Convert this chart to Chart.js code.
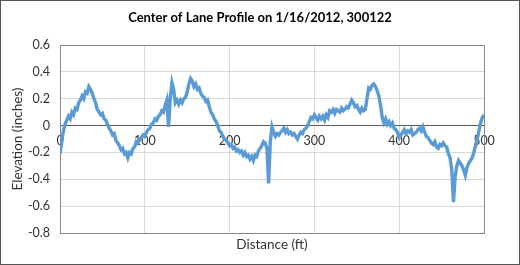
<!DOCTYPE html>
<html>
<head>
<meta charset="utf-8">
<script src="https://cdn.jsdelivr.net/npm/chart.js@4/dist/chart.umd.min.js"></script>
<style>
  html, body { margin: 0; padding: 0; background: #fff; }
  #wrap { width: 520px; height: 265px; box-sizing: border-box; border: 1px solid #555; position: relative; }
  #wrap canvas { display: block; }
</style>
</head>
<body>
<div id="wrap"><canvas id="profile"></canvas></div>
<script>
// distance along the lane (ft), one reading every 2 ft
const distances = [
    0,   2,   4,   6,   8,  10,  12,  14,  16,  18,
   20,  22,  24,  26,  28,  30,  32,  34,  36,  38,
   40,  42,  44,  46,  48,  50,  52,  54,  56,  58,
   60,  62,  64,  66,  68,  70,  72,  74,  76,  78,
   80,  82,  84,  86,  88,  90,  92,  94,  96,  98,
  100, 102, 104, 106, 108, 110, 112, 114, 116, 118,
  120, 122, 124, 126, 128, 130, 132, 134, 136, 138,
  140, 142, 144, 146, 148, 150, 152, 154, 156, 158,
  160, 162, 164, 166, 168, 170, 172, 174, 176, 178,
  180, 182, 184, 186, 188, 190, 192, 194, 196, 198,
  200, 202, 204, 206, 208, 210, 212, 214, 216, 218,
  220, 222, 224, 226, 228, 230, 232, 234, 236, 238,
  240, 242, 244, 246, 248, 250, 252, 254, 256, 258,
  260, 262, 264, 266, 268, 270, 272, 274, 276, 278,
  280, 282, 284, 286, 288, 290, 292, 294, 296, 298,
  300, 302, 304, 306, 308, 310, 312, 314, 316, 318,
  320, 322, 324, 326, 328, 330, 332, 334, 336, 338,
  340, 342, 344, 346, 348, 350, 352, 354, 356, 358,
  360, 362, 364, 366, 368, 370, 372, 374, 376, 378,
  380, 382, 384, 386, 388, 390, 392, 394, 396, 398,
  400, 402, 404, 406, 408, 410, 412, 414, 416, 418,
  420, 422, 424, 426, 428, 430, 432, 434, 436, 438,
  440, 442, 444, 446, 448, 450, 452, 454, 456, 458,
  460, 462, 464, 466, 468, 470, 472, 474, 476, 478,
  480, 482, 484, 486, 488, 490, 492, 494, 496, 498,
  500
];

// elevation (inches)
const elevation = [
  -0.21, -0.12, -0.04,  0.01,  0.04,  0.07,  0.05,  0.10,  0.08,  0.13,
   0.12,  0.17,  0.19,  0.22,  0.20,  0.25,  0.24,  0.29,  0.27,  0.24,
   0.20,  0.17,  0.12,  0.10,  0.08,  0.09,  0.05,  0.04,  0.01, -0.02,
  -0.04, -0.07, -0.06, -0.11, -0.13, -0.15, -0.18, -0.17, -0.21, -0.20,
  -0.24, -0.20, -0.21, -0.17, -0.16, -0.12, -0.13, -0.10, -0.09, -0.07,
  -0.08, -0.05, -0.03, -0.02,  0.01,  0.02,  0.05,  0.04,  0.07,  0.08,
   0.11,  0.10,  0.15,  0.19, -0.01,  0.20,  0.32,  0.27,  0.17,  0.19,
   0.16,  0.19,  0.17,  0.20,  0.21,  0.25,  0.31,  0.35,  0.33,  0.29,
   0.31,  0.27,  0.28,  0.24,  0.22,  0.21,  0.18,  0.19,  0.14,  0.10,
   0.08,  0.05,  0.03,  0.00, -0.04, -0.05, -0.08, -0.10, -0.11, -0.13,
  -0.15, -0.14, -0.17, -0.16, -0.19, -0.18, -0.20, -0.19, -0.22, -0.20,
  -0.23, -0.22, -0.25, -0.23, -0.26, -0.22, -0.23, -0.19, -0.17, -0.15,
  -0.12, -0.13, -0.17, -0.43, -0.12, -0.01, -0.05, -0.08, -0.06, -0.07,
  -0.05, -0.04, -0.02, -0.05, -0.03, -0.06, -0.05, -0.07, -0.06, -0.08,
  -0.10, -0.07, -0.05, -0.06, -0.03, -0.02,  0.00,  0.03,  0.06,  0.05,
   0.08,  0.06,  0.04,  0.07,  0.05,  0.07,  0.04,  0.08,  0.06,  0.11,
   0.10,  0.12,  0.09,  0.12,  0.11,  0.10,  0.13,  0.11,  0.12,  0.14,
   0.13,  0.16,  0.19,  0.17,  0.14,  0.15,  0.12,  0.10,  0.13,  0.11,
   0.12,  0.20,  0.28,  0.27,  0.30,  0.31,  0.29,  0.26,  0.22,  0.15,
   0.06,  0.02,  0.05,  0.01,  0.03,  0.00,  0.02, -0.02, -0.03, -0.05,
  -0.09, -0.07, -0.05, -0.03, -0.06, -0.04, -0.05, -0.03, -0.07, -0.06,
  -0.05, -0.03, -0.02, -0.04, -0.01, -0.05, -0.08, -0.09, -0.11, -0.13,
  -0.14, -0.12, -0.16, -0.17, -0.14, -0.15, -0.13, -0.15, -0.16, -0.21,
  -0.24, -0.33, -0.57, -0.38, -0.30, -0.26, -0.28, -0.30, -0.33, -0.37,
  -0.31, -0.28, -0.26, -0.24, -0.20, -0.15, -0.10, -0.04,  0.02,  0.06,
   0.08
];

const distanceTicks = [0, 100, 200, 300, 400, 500];
const elevationTicks = [-0.8, -0.6, -0.4, -0.2, 0, 0.2, 0.4, 0.6];

const FONT = 'Lato, "Open Sans", sans-serif';
const TEXT = '#333';
const GRID = '#d9d9d9';

// Excel-style grey frame round the plot area
const plotFrame = {
    id: 'plotFrame',
    beforeDatasetsDraw(chart) {
        const a = chart.chartArea;
        const ctx = chart.ctx;
        ctx.save();
        ctx.strokeStyle = '#858585';
        ctx.lineWidth = 1;
        ctx.strokeRect(Math.round(a.left) + 0.5, Math.round(a.top) + 0.5,
                       Math.round(a.right - a.left), Math.round(a.bottom - a.top));
        ctx.restore();
    }
};

const points = distances.map((d, i) => ({ x: d, y: elevation[i] }));

new Chart(document.getElementById('profile'), {
    type: 'line',
    data: {
        datasets: [{
            label: 'Elevation',
            data: points,
            borderColor: '#5b9bd5',
            borderWidth: 3.4,
            pointRadius: 0,
            tension: 0,
            fill: false
        }]
    },
    options: {
        responsive: true,
        maintainAspectRatio: false,
        animation: false,
        events: [],
        layout: { padding: 0 },
        plugins: {
            legend: { display: false },
            tooltip: { enabled: false },
            title: {
                display: true,
                text: 'Center of Lane Profile on 1/16/2012, 300122',
                color: '#000',
                font: { family: FONT, size: 13, weight: 'bold' },
                padding: { top: 9.5, bottom: 18.9 }
            }
        },
        scales: {
            x: {
                type: 'linear',
                position: { y: 0 },
                min: 0,
                max: 500,
                afterBuildTicks: scale => { scale.ticks = distanceTicks.map(v => ({ value: v })); },
                grid: { color: GRID, drawTicks: false },
                border: { display: true, color: '#595959', width: 1 },
                ticks: { color: TEXT, padding: 8, maxRotation: 0, font: { family: FONT, size: 12.5 } }
            },
            x2: {
                axis: 'x',
                type: 'linear',
                position: 'bottom',
                min: 0,
                max: 500,
                grid: { display: false },
                border: { display: false },
                ticks: { display: false },
                title: {
                    display: true,
                    text: 'Distance (ft)',
                    color: TEXT,
                    font: { family: FONT, size: 13.5 },
                    padding: { top: 0, bottom: 11 }
                },
                afterFit: scale => { scale.height = 31; }
            },
            y: {
                min: -0.8,
                max: 0.6,
                afterBuildTicks: scale => { scale.ticks = elevationTicks.map(v => ({ value: v })); },
                grid: { color: GRID, drawTicks: false },
                border: { display: false },
                ticks: {
                    color: TEXT,
                    padding: 10,
                    font: { family: FONT, size: 12.5 },
                    callback: v => (v === 0 ? '0' : String(v))
                },
                title: {
                    display: true,
                    text: 'Elevation (inches)',
                    color: TEXT,
                    font: { family: FONT, size: 13.5 },
                    padding: { top: 9, bottom: 0 }
                },
                afterFit: scale => { scale.width = 59; }
            },
            // empty right-hand axis: keeps the plot area clear of the right edge
            // while the title stays centred on the whole picture
            yRight: {
                axis: 'y',
                position: 'right',
                min: -0.8,
                max: 0.6,
                grid: { display: false },
                border: { display: false },
                ticks: { display: false },
                afterFit: scale => { scale.width = 35; }
            }
        }
    },
    plugins: [plotFrame]
});
</script>
</body>
</html>
